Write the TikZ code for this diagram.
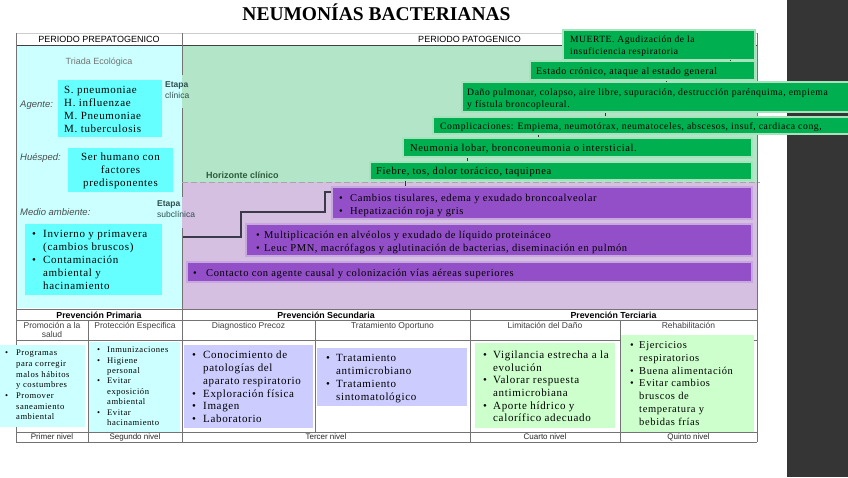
\documentclass[tikz,border=0pt]{standalone}
\usepackage{fontspec}
\setmainfont[LetterSpace=6]{Liberation Serif}
\setsansfont{Liberation Sans}
\newfontfamily\titlefont{Liberation Serif}
\usetikzlibrary{fit}
\definecolor{cyanL}{HTML}{CCFFFF}
\definecolor{cyanB}{HTML}{66FFFF}
\definecolor{greenL}{HTML}{B3E6C8}
\definecolor{greenB}{HTML}{00B050}
\definecolor{greenBd}{HTML}{A6E3BC}
\definecolor{purL}{HTML}{D5C0E2}
\definecolor{purB}{HTML}{924FC7}
\definecolor{purBd}{HTML}{C7A8DE}
\definecolor{lav}{HTML}{CCCCFF}
\definecolor{mint}{HTML}{CCFFCC}
\definecolor{darkstrip}{HTML}{353535}
\definecolor{stairc}{HTML}{3A3A4A}
\definecolor{etapac}{HTML}{2F4F4F}
\definecolor{horic}{HTML}{2D5A3D}
\newcommand{\fs}[2]{\fontsize{#1}{#2}\selectfont}
\newcommand{\bi}[1]{\makebox[#1][l]{\textbullet}}
\begin{document}
\begin{tikzpicture}[x=1pt,y=-1pt,
  frame/.style={draw=black!55, line width=0.8pt},
  hdr/.style={font=\sffamily\fs{9}{11}, inner sep=0pt, anchor=base},
  prv/.style={font=\sffamily\bfseries\fs{8.8}{10}, inner sep=0pt, anchor=base},
  subh/.style={font=\sffamily\fs{8.5}{9}, text=black!75, inner sep=0pt, anchor=base, align=center},
  niv/.style={font=\sffamily\fs{8}{9}, text=black!85, inner sep=0pt, anchor=base},
  lbl/.style={font=\sffamily\itshape\fs{9.5}{11}, text=black!70, inner sep=0pt, anchor=base west},
  txt/.style={inner sep=0pt, anchor=base west},
  gbox/.style={fill=greenB, draw=greenBd, line width=1.2pt, inner sep=0pt},
  pbox/.style={fill=purB, draw=purBd, line width=1.2pt, inner sep=0pt},
  plainbox/.style={draw=none, inner sep=0pt},
  link/.style={draw=black!80, line width=0.8pt},
  stair/.style={draw=stairc, line width=1.4pt},
]
\useasboundingbox (0,0) rectangle (848,477);
\fill[white] (0,0) rectangle (848,477);
\fill[darkstrip] (787,0) rectangle (848,477);

% background regions
\fill[cyanL] (17,45) rectangle (182,308);
\fill[greenL] (182,45) rectangle (757,182);
\fill[purL] (182,182) rectangle (757,309);

% frame lines
\draw[line width=0.8pt, draw=black!20] (16,33) -- (757,33);
\draw[frame, draw=black!75] (16,45) -- (757,45);
\draw[frame] (16,33) -- (16,442);
\draw[frame] (757,33) -- (757,442);
\draw[frame] (182,33) -- (182,75);
\draw[frame] (182,108) -- (182,197);
\draw[frame] (182,228) -- (182,442);
\draw[draw=black!35, line width=0.8pt, dash pattern=on 6pt off 3pt] (182,182) -- (760,182);
\draw[frame] (16,309) -- (757,309);
\draw[frame] (16,320) -- (757,320);
\draw[frame] (16,340) -- (757,340);
\draw[frame] (16,432) -- (757,432);
\draw[frame] (16,442) -- (757,442);
\draw[frame] (88,320) -- (88,442);
\draw[frame] (315,320) -- (315,432);
\draw[frame] (470,309) -- (470,442);
\draw[frame] (620,320) -- (620,442);

% title and headers
\node[inner sep=0pt, anchor=base, font=\titlefont\bfseries\fs{19.5}{22}] (title) at (376.5,20) {NEUMONÍAS BACTERIANAS};
\node[hdr] (hpre) at (99,42.7) {PERIODO PREPATOGENICO};
\node[hdr] (hpat) at (469.5,42.7) {PERIODO PATOGENICO};

% left panel
\node[inner sep=0pt, anchor=base, font=\sffamily\fs{9}{11}, text=black!55] (triada) at (99,64.2) {Triada Ecológica};
\node[lbl] (lage) at (20,107.5) {Agente:};
\node[lbl] (lhue) at (20,160.5) {Huésped:};
\node[lbl] (lmed) at (20,215) {Medio ambiente:};

\node[plainbox, fill=cyanB, fit={(58,80) (162,137)}] (agente) {};
\node[txt] (agentet) at (64,93.8) {\fs{11}{12.8}\begin{tabular}[t]{@{}l@{}}S. pneumoniae\\ H. influenzae\\ M. Pneumoniae\\ M. tuberculosis\end{tabular}};

\node[plainbox, fill=cyanB, fit={(68,148) (173,192)}] (huesped) {};
\node[inner sep=0pt, anchor=base] (huespedt) at (120.5,160.8) {\fs{11}{13}\begin{tabular}[t]{@{}c@{}}Ser humano con\\ factores\\ predisponentes\end{tabular}};

\node[plainbox, fill=cyanB, fit={(25,224) (162,295)}] (medio) {};
\node[txt] (mediot) at (32,237.8) {\fs{11}{12.8}\begin{tabular}[t]{@{}l@{}l@{}}\bi{11pt} & Invierno y primavera\\ & (cambios bruscos)\\ \bi{11pt} & Contaminación\\ & ambiental y\\ & hacinamiento\end{tabular}};

% stage labels
\node[txt, text=etapac] (eclin) at (165,87) {\sffamily\fs{8.5}{11}\begin{tabular}[t]{@{}l@{}}\textbf{Etapa}\\ clínica\end{tabular}};
\node[txt, text=etapac] (esub) at (157,206) {\sffamily\fs{8.5}{11}\begin{tabular}[t]{@{}l@{}}\textbf{Etapa}\\ subclínica\end{tabular}};
\node[txt, text=horic, font=\sffamily\bfseries\fs{9}{11}] (horiz) at (206,178.3) {Horizonte clínico};

% green boxes (clinical stage)
\node[gbox, fit={(370,162) (752,180)}] (g1) {};
\node[txt] (g1t) at (376,174.5) {\fs{10.5}{12}Fiebre, tos, dolor torácico, taquipnea};
\node[gbox, fit={(403,138) (752,157)}] (g2) {};
\node[txt] (g2t) at (410,151.5) {\fs{10.5}{12}Neumonia lobar, bronconeumonia o intersticial.};
\node[gbox, fit={(433,117) (849,134)}] (g3) {};
\node[txt] (g3t) at (440,129.1) {\fs{9.7}{12}Complicaciones: Empiema, neumotórax, neumatoceles, abscesos, insuf, cardiaca cong,};
\node[gbox, fit={(462,82) (849,112)}] (g4) {};
\node[txt] (g4t) at (467,95.2) {\fs{9.7}{12}\begin{tabular}[t]{@{}l@{}}Daño pulmonar, colapso, aire libre, supuración, destrucción parénquima, empiema\\ y fístula broncopleural.\end{tabular}};
\node[gbox, fit={(530,61) (755,80)}] (g5) {};
\node[txt] (g5t) at (536,74.3) {\fs{10}{12}Estado crónico, ataque al estado general};
\node[gbox, fit={(563,30) (755,60)}] (g6) {};
\node[txt] (g6t) at (570,42.1) {\fs{9.5}{12}\begin{tabular}[t]{@{}l@{}}MUERTE. Agudización de la\\ insuficiencia respiratoria\end{tabular}};

\coordinate (c12) at (467,0);
\coordinate (c23) at (538,0);
\coordinate (c34) at (605,0);
\coordinate (c45) at (666,0);
\coordinate (c56) at (730,0);
\coordinate (c1p) at (405,0);
\draw[link] (g1.north -| c12) -- (g2.south -| c12);
\draw[link] (g2.north -| c23) -- (g3.south -| c23);
\draw[link] (g3.north -| c34) -- (g4.south -| c34);
\draw[link] (g4.north -| c45) -- (g5.south -| c45);
\draw[link] (g5.north -| c56) -- (g6.south -| c56);

% purple boxes (subclinical stage)
\node[pbox, fit={(332,187) (752,219)}] (p1) {};
\node[txt] (p1t) at (339,201.5) {\fs{10.5}{13}\begin{tabular}[t]{@{}l@{}l@{}}\bi{11pt} & Cambios tisulares, edema y exudado broncoalveolar\\ \bi{11pt} & Hepatización roja y gris\end{tabular}};
\node[pbox, fit={(246,224) (752,256)}] (p2) {};
\node[txt] (p2t) at (256,238.5) {\fs{10.5}{13}\begin{tabular}[t]{@{}l@{}l@{}}\bi{8pt} & Multiplicación en alvéolos y exudado de líquido proteináceo\\ \bi{8pt} & Leuc PMN, macrófagos y aglutinación de bacterias, diseminación en pulmón\end{tabular}};
\node[pbox, fit={(187,262) (752,282)}] (p3) {};
\node[txt] (p3t) at (193,276.5) {\fs{10.5}{13}\bi{13pt}Contacto con agente causal y colonización vías aéreas superiores};

\draw[link] (g1.south -| c1p) -- (p1.north -| c1p);
\coordinate (sc) at (183,237);
\coordinate (s1) at (325,192);
\draw[stair] (sc) -| (241,212) -| (s1) -- (p1.west |- s1);

% prevention table headers
\node[prv] (pp) at (99,318.2) {Prevención Primaria};
\node[prv] (ps) at (326,318.2) {Prevención Secundaria};
\node[prv] (pt) at (613.5,318.2) {Prevención Terciaria};
\node[subh] (s1h) at (52,328) {\begin{tabular}[t]{@{}c@{}}Promoción a la\\ salud\end{tabular}};
\node[subh] (s2h) at (135,328) {Protección Especifica};
\node[subh] (s3h) at (248.5,328) {Diagnostico Precoz};
\node[subh] (s4h) at (392.5,328) {Tratamiento Oportuno};
\node[subh] (s5h) at (545,328) {Limitación del Daño};
\node[subh] (s6h) at (688.5,328) {Rehabilitación};
\node[niv] (n1) at (52,439) {Primer nivel};
\node[niv] (n2) at (135,439) {Segundo nivel};
\node[niv] (n3) at (326,439) {Tercer nivel};
\node[niv] (n4) at (545,439) {Cuarto nivel};
\node[niv] (n5) at (688.5,439) {Quinto nivel};

% prevention boxes
\node[plainbox, fill=cyanL, fit={(0,345) (85,427)}] (promo) {};
\node[txt] (promot) at (5,355.7) {\fs{8.6}{10.7}\begin{tabular}[t]{@{}l@{}l@{}}\bi{11pt} & Programas\\ & para corregir\\ & malos hábitos\\ & y costumbres\\ \bi{11pt} & Promover\\ & saneamiento\\ & ambiental\end{tabular}};
\node[plainbox, fill=cyanL, fit={(89,342) (180,432)}] (prot) {};
\node[txt] (prott) at (97,352.7) {\fs{8.6}{10.4}\begin{tabular}[t]{@{}l@{}l@{}}\bi{10pt} & Inmunizaciones\\ \bi{10pt} & Higiene\\ & personal\\ \bi{10pt} & Evitar\\ & exposición\\ & ambiental\\ \bi{10pt} & Evitar\\ & hacinamiento\end{tabular}};
\node[plainbox, fill=lav, fit={(184,345) (313,428)}] (diag) {};
\node[txt] (diagt) at (192,358.7) {\fs{11}{12.8}\begin{tabular}[t]{@{}l@{}l@{}}\bi{11pt} & Conocimiento de\\ & patologías del\\ & aparato respiratorio\\ \bi{11pt} & Exploración física\\ \bi{11pt} & Imagen\\ \bi{11pt} & Laboratorio\end{tabular}};
\node[plainbox, fill=lav, fit={(317,348) (467,406)}] (trat) {};
\node[txt] (tratt) at (326,361.7) {\fs{11}{12.9}\begin{tabular}[t]{@{}l@{}l@{}}\bi{10pt} & Tratamiento\\ & antimicrobiano\\ \bi{10pt} & Tratamiento\\ & sintomatológico\end{tabular}};
\node[plainbox, fill=mint, fit={(475,343) (615,428)}] (limi) {};
\node[txt] (limit) at (483,358.7) {\fs{11}{12.6}\begin{tabular}[t]{@{}l@{}l@{}}\bi{10pt} & Vigilancia estrecha a la\\ & evolución\\ \bi{10pt} & Valorar respuesta\\ & antimicrobiana\\ \bi{10pt} & Aporte hídrico y\\ & calorífico adecuado\end{tabular}};
\node[plainbox, fill=mint, fit={(621,335) (754,432)}] (rehab) {};
\node[txt] (rehabt) at (630,348.5) {\fs{10.5}{12.8}\begin{tabular}[t]{@{}l@{}l@{}}\bi{9pt} & Ejercicios\\ & respiratorios\\ \bi{9pt} & Buena alimentación\\ \bi{9pt} & Evitar cambios\\ & bruscos de\\ & temperatura y\\ & bebidas frías\end{tabular}};
\end{tikzpicture}
\end{document}
